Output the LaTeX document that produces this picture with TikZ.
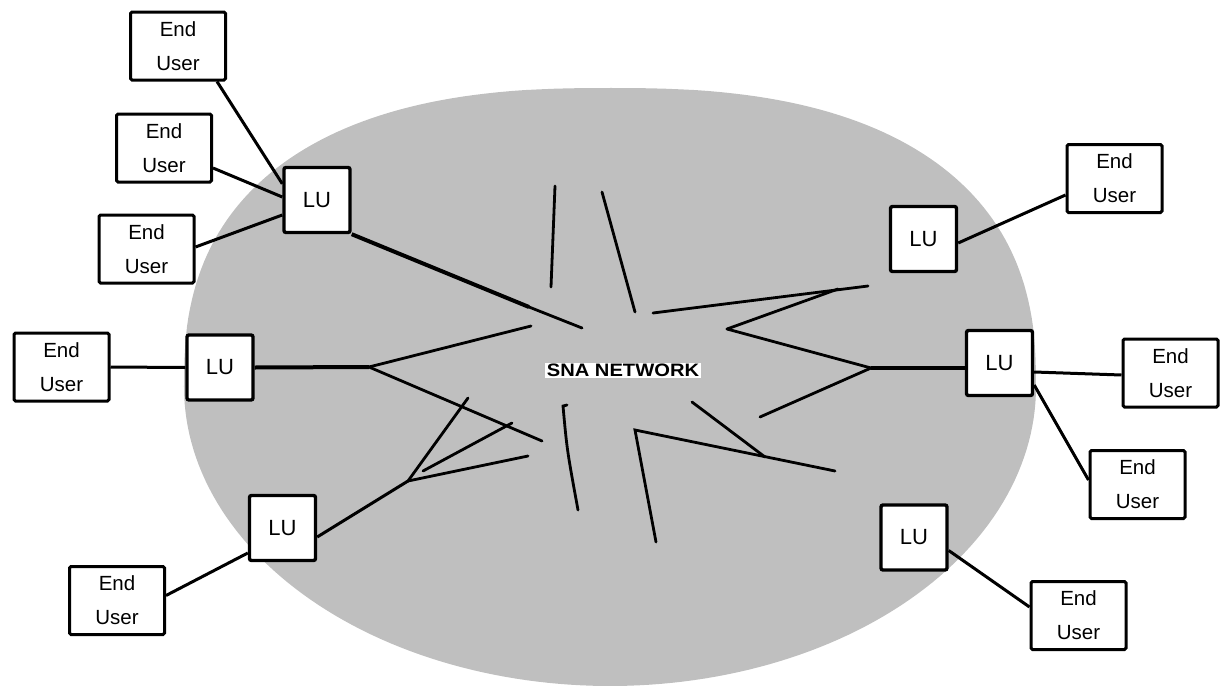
\documentclass[tikz,border=0pt]{standalone}
\usepackage{fontspec}
\setmainfont{Liberation Sans}
\usetikzlibrary{calc}
\definecolor{netgray}{gray}{0.75}
\begin{document}
\begin{tikzpicture}[x=1pt,y=-1pt,
  eu/.style={draw,line width=3pt,fill=white,rounded corners=1.5pt,minimum width=95pt,minimum height=68pt,inner sep=0pt,align=center,font=\fontsize{20.5}{34}\selectfont},
  lu/.style={draw,line width=3.4pt,fill=white,rounded corners=2pt,minimum width=66pt,minimum height=65pt,inner sep=0pt,font=\fontsize{22}{24}\selectfont},
  link/.style={line width=3pt},
  trunk/.style={line width=4pt},
  star/.style={line width=2.8pt,line cap=round,line join=miter},
  lbl/.style={fill=white,inner xsep=2pt,inner ysep=1.5pt,font=\fontsize{18}{20}\selectfont\bfseries}]
\useasboundingbox (0,0) rectangle (1220,688);
% network cloud: flatter upper half, elliptic lower half
\fill[netgray] (1036,387)
  -- plot[domain=0:90,samples=60] ({610+426*pow(cos(\x)+0.000001,0.8)},{387-299*pow(sin(\x)+0.000001,0.8)})
  -- plot[domain=90:180,samples=60] ({610-426*pow(abs(cos(\x))+0.000001,0.8)},{387-299*pow(sin(\x)+0.000001,0.8)})
  -- plot[domain=180:360,samples=120] ({610+426*cos(\x)},{387-299*sin(\x)}) -- cycle;
% junction points
\coordinate (j1a) at (529,307);
\coordinate (j1b) at (582,328);
\coordinate (j2) at (369,367);
\coordinate (j3) at (408,481);
\coordinate (j4) at (727,329);
\coordinate (j5) at (871,368);
% star lines inside the network
\draw[star] (555,186) -- (551,287);
\draw[star] (602,192) -- (635,312);
\draw[star] (653,313) -- (868,286);
\draw[star] (j4) -- (838,289);
\draw[star] (j4) -- (j5);
\draw[star] (j5) -- (760,417);
\draw[star] (j2) -- (531,326);
\draw[star] (j2) -- (542,441);
\draw[star] (j3) -- (528,456);
\draw[star] (j3) -- (468,398);
\draw[star] (423,471) -- (512,423);
\draw[star] (567,405) -- (563,406) .. controls (567,450) .. (578,510);
\draw[star] (656,542) -- (635,430) -- (835,471);
\draw[star] (692,402) -- (765,457);
\node[lbl] (sna) at (623,370.5) {\scalebox{1.12}[1]{SNA NETWORK}};
% nodes
\node[eu] (eu1) at (178,46) {End\\User};
\node[eu] (eu2) at (164,148) {End\\User};
\node[eu] (eu3) at (146.5,249) {End\\User};
\node[lu] (lu1) at (317,200) {LU};
\node[eu] (eu4) at (61.5,367) {End\\User};
\node[lu] (lu2) at (220,367.5) {LU};
\node[eu] (eu5) at (117,600.5) {End\\User};
\node[lu] (lu3) at (282.5,528) {LU};
\node[eu] (eu6) at (1114.5,178.5) {End\\User};
\node[lu] (lu4) at (923.5,239) {LU};
\node[lu] (lu5) at (999.5,363) {LU};
\node[eu] (eu7) at (1170.5,373) {End\\User};
\node[eu] (eu8) at (1137.5,484.5) {End\\User};
\node[lu] (lu6) at (914,537.5) {LU};
\node[eu] (eu9) at (1078.5,615.5) {End\\User};
% connectors
\draw[link] ([xshift=-10pt]eu1.south east) -- ([yshift=-18pt]lu1.north west);
\draw[link] ([yshift=-20pt]eu2.east) -- ([yshift=3pt]lu1.west);
\draw[link] ([yshift=2pt]eu3.east) -- ([yshift=-15pt]lu1.west);
\draw[trunk] (lu1.south east) -- (j1a);
\draw[star] (j1a) -- (j1b);
\draw[link] (eu4.east) -- (lu2.west);
\draw[trunk] (lu2.east) -- (j2);
\draw[link] ([yshift=5pt]eu5.east) -- ([yshift=-25pt]lu3.west);
\draw[link] ([yshift=-9pt]lu3.east) -- (j3);
\draw[link] ([yshift=-4pt]lu4.east) -- ([yshift=-16.5pt]eu6.west);
\draw[trunk] (j5) -- ([yshift=-5pt]lu5.west);
\draw[link] ([yshift=-9pt]lu5.east) -- ([yshift=-2pt]eu7.west);
\draw[link] ([yshift=-22pt]lu5.east) -- ([yshift=4.5pt]eu8.west);
\draw[link] ([yshift=-13pt]lu6.east) -- ([yshift=8.5pt]eu9.west);
\end{tikzpicture}
\end{document}
